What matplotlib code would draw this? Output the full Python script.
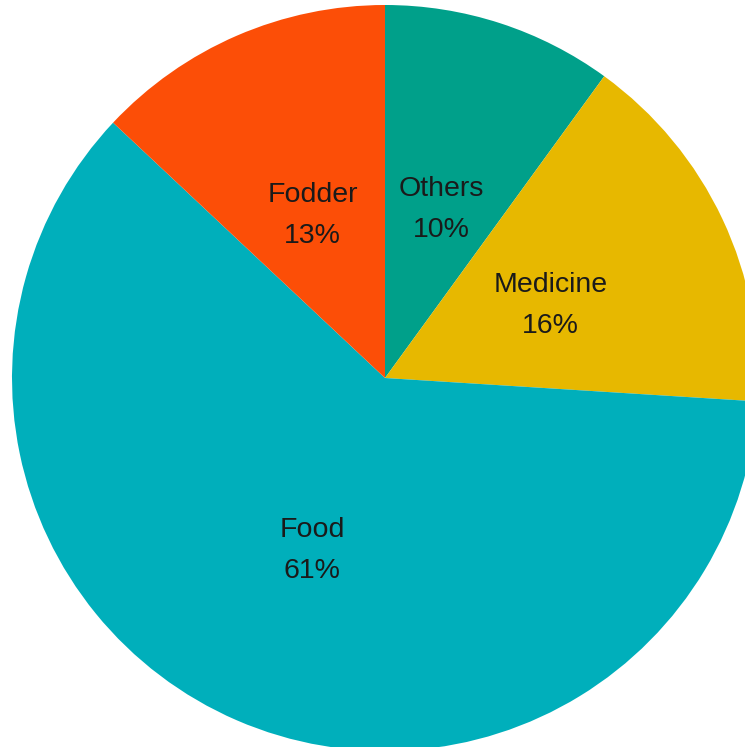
import matplotlib.pyplot as plt
import numpy as np

plt.rcParams['font.family'] = ['Liberation Sans', 'DejaVu Sans']

labels = ['Others', 'Medicine', 'Food', 'Fodder']
shares = [10, 16, 61, 13]
colors = ['#00A08A', '#E7B800', '#00AFBB', '#FC4E07']

fig = plt.figure(figsize=(7.45, 7.47), dpi=100)
ax = fig.add_axes([0, 0, 1, 1])

wedges, texts = ax.pie(shares, colors=colors, startangle=90, counterclock=False,
                       radius=1.0, wedgeprops=dict(linewidth=0))

R = 373
# label text placed inside each wedge
for w, lab, s in zip(wedges, labels, shares):
    ang = np.deg2rad((w.theta1 + w.theta2) / 2)
    r = 0.49
    ax.text(r * np.cos(ang), r * np.sin(ang) - 5 / R, f'{lab}\n{s}%', ha='center', va='center',
            fontsize=20.5, color='#1a1a1a', linespacing=1.75)

ax.set_xlim(-385 / R, (745 - 385) / R)
ax.set_ylim(-(747 - 378) / R, 378 / R)
ax.set_aspect('equal')
ax.axis('off')

fig.savefig('out.png', dpi=100)
